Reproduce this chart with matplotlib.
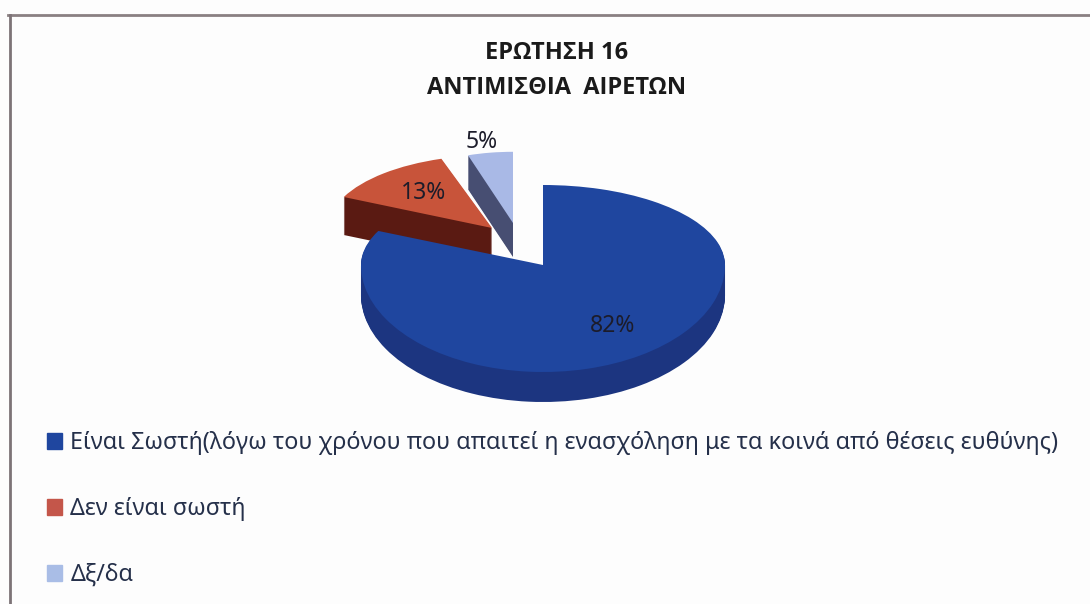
import numpy as np
import matplotlib
matplotlib.use('Agg')
import matplotlib.pyplot as plt
from matplotlib.lines import Line2D
from matplotlib.transforms import Affine2D

plt.rcParams['font.family'] = ['Noto Sans', 'DejaVu Sans']

labels = ['Είναι Σωστή(λόγω του χρόνου που απαιτεί η ενασχόληση με τα κοινά από θέσεις ευθύνης)',
          'Δεν είναι σωστή',
          'Δξ/δα']
values = [82, 13, 5]
title_lines = ['ΕΡΩΤΗΣΗ 16', 'ΑΝΤΙΜΙΣΘΙΑ  ΑΙΡΕΤΩΝ']

top_colors = ['#1f469f', '#c8543a', '#a9b9e6']
side_colors = ['#1c3580', '#5a1a12', '#474e72']
legend_colors = ['#1f469f', '#c4564a', '#a9bde6']

W, H = 1090, 604
cx, cy = 543, 265      # apex of the big slice, pixels from top left
rx, ry_up, ry_down = 182, 80, 107
# per slice: shift in pixels, scale, depth
shifts = [(0, 0), (-51, 37), (-30, 42)]
scales = [(1, 1), (0.90, 0.91), (0.80, 0.89)]
depths = [30, 38, 34]
draw_order = [2, 1, 0]


def px(x, y):
    return x / W, 1 - y / H


# nearer half of the ellipse is taller, fakes the perspective of the 3d pie
def forward(y):
    return np.where(y >= 0, y * ry_up, y * ry_down)


def inverse(y):
    return np.where(y >= 0, y / ry_up, y / ry_down)


fig = plt.figure(figsize=(W / 100, H / 100), dpi=100, facecolor='#fdfdfd')
ax = fig.add_axes([0, 0, 1, 1])


def draw_layer(colors, i, drop):
    wedges, _ = ax.pie(values, colors=colors, startangle=90, counterclock=False,
                       wedgeprops={'linewidth': 0})
    for j, w in enumerate(wedges):
        if j != i:
            w.set_visible(False)
            continue
        dx, dy = shifts[i]
        sx, sy = scales[i]
        w.set_transform(Affine2D().scale(sx, sy) + ax.transData
                        + Affine2D().translate(dx, dy - drop))
        w.set_zorder(2)
    return wedges


for i in draw_order:
    for d in range(depths[i], 0, -1):
        draw_layer(side_colors, i, d)
    draw_layer(top_colors, i, 0)

ax.set_aspect('auto')
ax.set_yscale('function', functions=(forward, inverse))
ax.set_xlim(-cx / rx, (W - cx) / rx)
ax.set_ylim(-(H - cy) / ry_down, cy / ry_up)
ax.axis('off')

# percentage labels
for v, (x, y) in zip(values, [(613, 326), (424, 193), (482, 142)]):
    fig.text(*px(x, y), f'{v}%', ha='center', va='center', fontsize=16.5, color='#1c1c2a')

# title
for line, y in zip(title_lines, [53, 88]):
    fig.text(*px(557, y), line, ha='center', va='center', fontsize=17,
             family=['Open Sans', 'DejaVu Sans'], fontweight='bold', color='#1a1a1a')

# legend
proxies = [plt.Rectangle((0, 0), 1, 1, color=c) for c in legend_colors]
fig.legend(proxies, labels, loc='upper left', bbox_to_anchor=px(40, 424), frameon=False,
           fontsize=16.8, labelcolor='#25304a', handlelength=0.65, handleheight=0.65,
           handletextpad=0.35, labelspacing=1.8, borderaxespad=0, borderpad=0.3)

# scanned frame, top and left only
fig.add_artist(Line2D([8 / W, 1], [1 - 15 / H] * 2, color='#8a8082', lw=2))
fig.add_artist(Line2D([10 / W] * 2, [0, 1 - 15 / H], color='#7d7377', lw=2))

fig.savefig('out.png', dpi=100, facecolor=fig.get_facecolor())
